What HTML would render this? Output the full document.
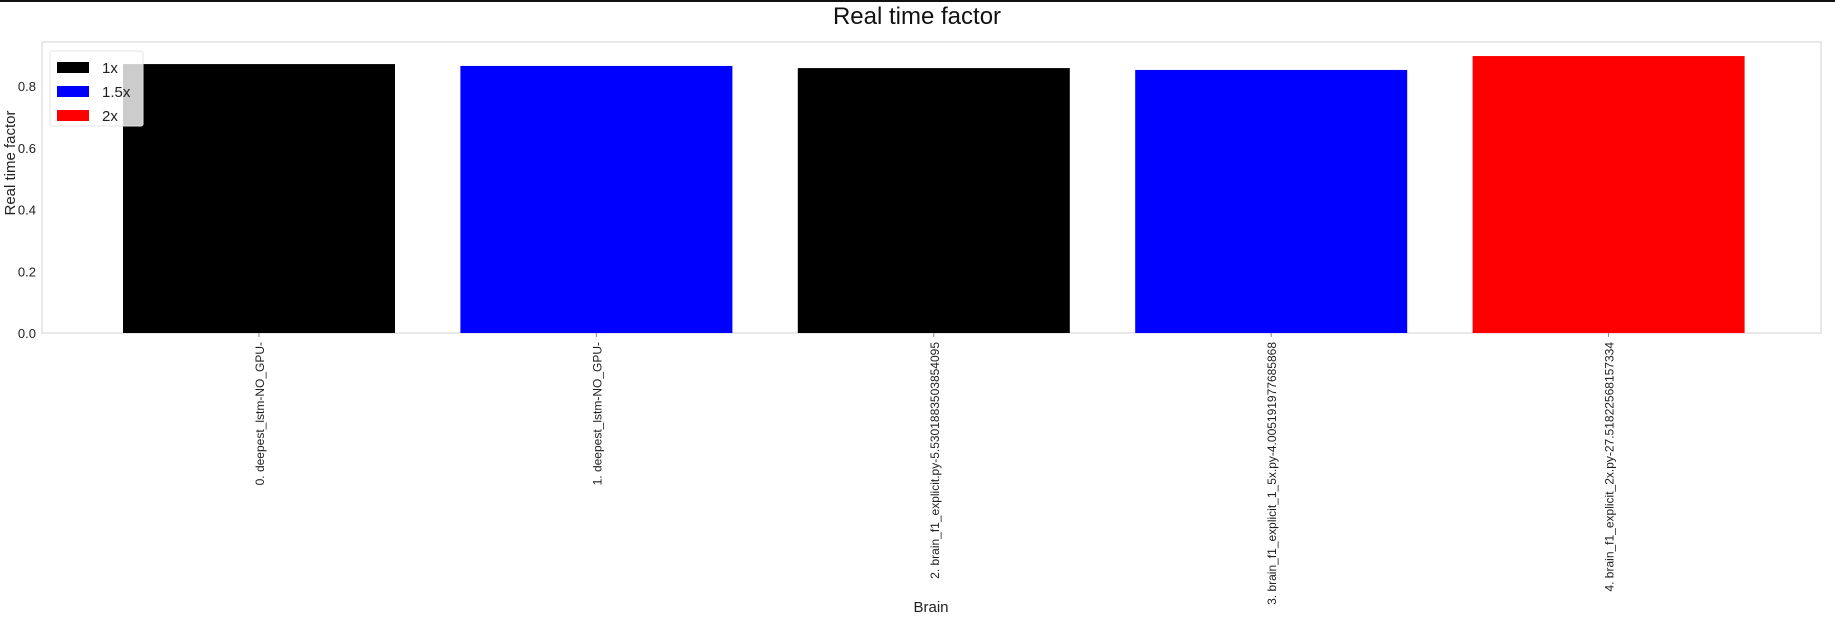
<!DOCTYPE html>
<html><head><meta charset="utf-8"><style>
body{margin:0;background:#fff;}
svg text{font-family:"Liberation Sans","DejaVu Sans",sans-serif;}
</style></head><body>
<svg id="chart" width="1835" height="617" viewBox="0 0 1835 617" xmlns="http://www.w3.org/2000/svg">
<rect x="0" y="0" width="1835" height="2" fill="#111"/>
<text x="917" y="24" font-size="24" text-anchor="middle" fill="#111">Real time factor</text>
<rect x="42" y="42" width="1779" height="291" fill="none" stroke="#d8d8d8" stroke-width="1.2"/>
<g id="bars"></g>
<g id="yticks"></g>
<g id="xticks"></g>
<text transform="translate(15,163) rotate(-90)" font-size="15" text-anchor="middle" fill="#222">Real time factor</text>
<text x="931" y="612" font-size="15" text-anchor="middle" fill="#222">Brain</text>
<g id="legend">
<rect x="50" y="51" width="93" height="75" rx="2" fill="#fff" fill-opacity="0.8" stroke="#e5e5e5"/>
</g>
</svg>
<script>
const categories = ["0. deepest_lstm-NO_GPU-","1. deepest_lstm-NO_GPU-","2. brain_f1_explicit.py-5.5301883503854095","3. brain_f1_explicit_1_5x.py-4.005191977685868","4. brain_f1_explicit_2x.py-27.51822568157334"];
const values = [0.871, 0.865, 0.858, 0.852, 0.897];
const groups = ["1x","1.5x","1x","1.5x","2x"];
const yTicks = [0, 0.2, 0.4, 0.6, 0.8];
const legendLabels = ["1x","1.5x","2x"];
const legendColors = ["#000000","#0000ff","#ff0000"];

const NS = "http://www.w3.org/2000/svg";
const y0 = 333, pxPerUnit = 308.75;
function yScale(v){ return y0 - v*pxPerUnit; }
function xScale(i){ return 259 + i*337.4; }
const barW = 272;
function colorOf(g){ return legendColors[legendLabels.indexOf(g)]; }
function mk(tag, attrs){ const e=document.createElementNS(NS,tag); for(const k in attrs) e.setAttribute(k,attrs[k]); return e; }

const bars = document.getElementById("bars");
values.forEach((v,i)=>{
  const r = mk("rect",{x:xScale(i)-barW/2, y:yScale(v), width:barW, height:y0-yScale(v), fill:colorOf(groups[i])});
  
  
  bars.appendChild(r);
});

const yt = document.getElementById("yticks");
yTicks.forEach(t=>{
  const tx = mk("text",{x:36, y:yScale(t)+5, "font-size":13, "text-anchor":"end", fill:"#222"});
  tx.textContent = t.toFixed(1);
  
  
  yt.appendChild(tx);
});

const xt = document.getElementById("xticks");
categories.forEach((c,i)=>{
  const x = xScale(i);
  const tk = mk("line",{x1:x, y1:333, x2:x, y2:337, stroke:"#888", "stroke-width":1});
  
  
  xt.appendChild(tk);
  const tx = mk("text",{transform:"translate("+(x+5)+",342) rotate(-90)", "font-size":12, "text-anchor":"end", fill:"#222"});
  tx.textContent = c;
  
  
  xt.appendChild(tx);
});

const lg = document.getElementById("legend");
legendLabels.forEach((l,i)=>{
  const y = 57 + i*24;
  const sw = mk("rect",{x:57, y:y+5, width:32, height:11, fill:legendColors[i]});
  
  
  lg.appendChild(sw);
  const tx = mk("text",{x:102, y:y+16, "font-size":15, fill:"#222"});
  tx.textContent = l;
  
  
  lg.appendChild(tx);
});
</script>
</body></html>
